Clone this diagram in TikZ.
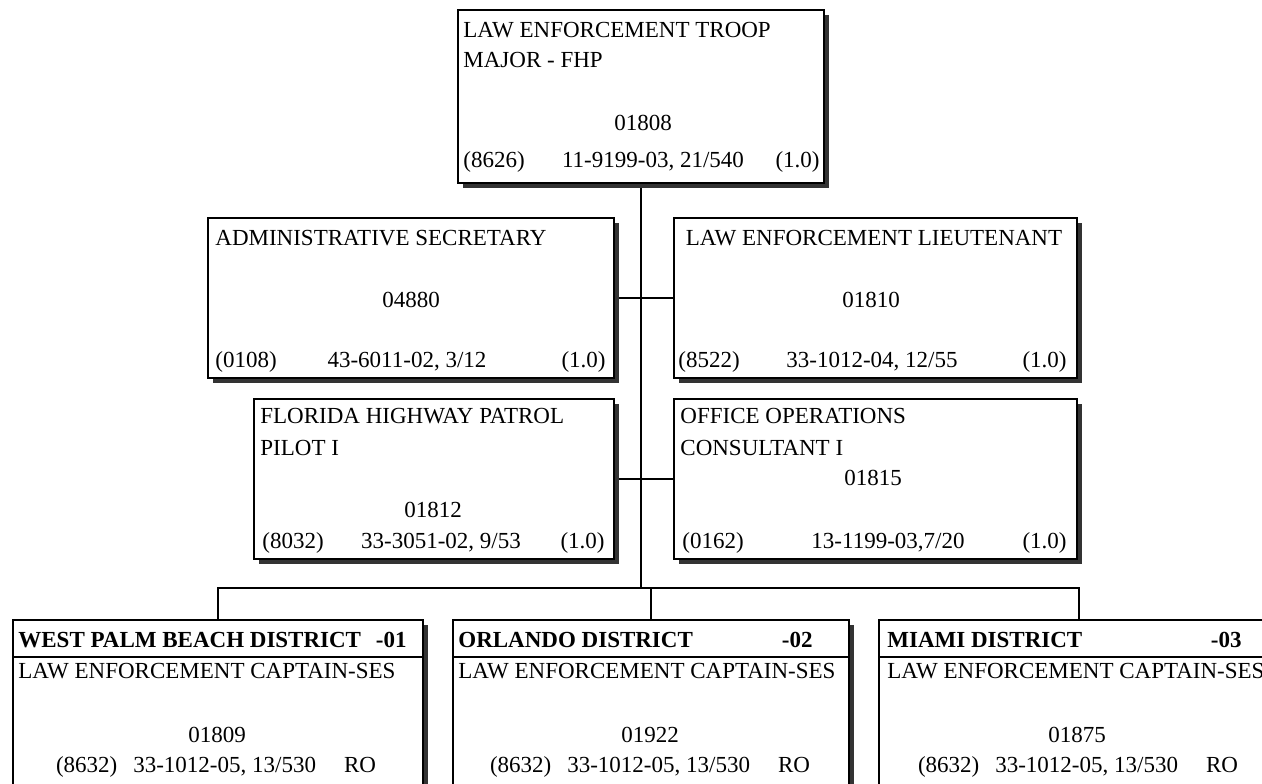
\documentclass[tikz,border=0pt]{standalone}
\usepackage{fontspec}
\setmainfont{Liberation Serif}
\usetikzlibrary{shadows,backgrounds}

\begin{document}
\begin{tikzpicture}[x=0.5pt, y=-0.5pt,
		post/.style={draw, line width=1pt, fill=white, inner sep=0pt, anchor=north west,
			drop shadow={shadow xshift=2.5pt, shadow yshift=-2.5pt, fill=black!80, opacity=1}},
		lbl/.style={inner sep=0pt, font=\fontsize{11.5}{13}\selectfont},
		hdr/.style={lbl, font=\fontsize{11.5}{13}\selectfont\bfseries},
		wire/.style={line width=0.9pt}]
	\useasboundingbox (0,0) rectangle (1262,783);
	\clip (0,0) rectangle (1262,783);

	% boxes
	\node[post, minimum width=183pt, minimum height=86.5pt] (major) at (457,9) {};
	\node[post, minimum width=203pt, minimum height=80pt] (adminsec) at (207,217) {};
	\node[post, minimum width=201.5pt, minimum height=80pt] (lieut) at (673,217) {};
	\node[post, minimum width=180pt, minimum height=80pt] (pilot) at (253,398) {};
	\node[post, minimum width=201.5pt, minimum height=80pt] (officeops) at (673,398) {};
	\node[post, minimum width=205pt, minimum height=90pt] (wpb) at (12,619) {};
	\node[post, minimum width=198pt, minimum height=90pt] (orl) at (452,619) {};
	\node[post, minimum width=200pt, minimum height=90pt] (mia) at (878,619) {};

	% district header rules
	\coordinate (sep) at (0,657);
	\foreach \d in {wpb,orl,mia}
		\draw[line width=0.8pt] (\d.west |- sep) -- (\d.east |- sep);

	% connectors
	\coordinate (bus) at (0,588);
	\begin{scope}[on background layer]
		\draw[wire] (major.south) -- (major.south |- bus);
		\draw[wire] (adminsec.east) -- (lieut.west);
		\draw[wire] (pilot.east) -- (officeops.west);
		\draw[wire] (wpb.north) |- (mia.north |- bus) -- (mia.north);
		\draw[wire] (orl.north) -- (orl.north |- bus);
	\end{scope}

	% troop major
	\node[lbl, anchor=base west] (majorA) at (463,37) {LAW ENFORCEMENT TROOP};
	\node[lbl, anchor=base west] (majorB) at (463,67) {MAJOR - FHP};
	\node[lbl, anchor=base] (majorN) at (643,130) {01808};
	\node[lbl, anchor=base west] (majorL) at (463,167) {(8626)};
	\node[lbl, anchor=base] (majorM) at (653,167) {11-9199-03, 21/540};
	\node[lbl, anchor=base east] (majorR) at (820,167) {(1.0)};

	% administrative secretary
	\node[lbl, anchor=base west] (adminA) at (215,245) {ADMINISTRATIVE SECRETARY};
	\node[lbl, anchor=base] (adminN) at (411,307) {04880};
	\node[lbl, anchor=base west] (adminL) at (215,367) {(0108)};
	\node[lbl, anchor=base] (adminM) at (407,367) {43-6011-02, 3/12};
	\node[lbl, anchor=base east] (adminR) at (606,367) {(1.0)};

	% lieutenant
	\node[lbl, anchor=base] (lieutA) at (874,245) {LAW ENFORCEMENT LIEUTENANT};
	\node[lbl, anchor=base] (lieutN) at (871,307) {01810};
	\node[lbl, anchor=base west] (lieutL) at (678,367) {(8522)};
	\node[lbl, anchor=base] (lieutM) at (872,367) {33-1012-04, 12/55};
	\node[lbl, anchor=base east] (lieutR) at (1067,367) {(1.0)};

	% pilot
	\node[lbl, anchor=base west] (pilotA) at (260,423) {FLORIDA HIGHWAY PATROL};
	\node[lbl, anchor=base west] (pilotB) at (260,455) {PILOT I};
	\node[lbl, anchor=base] (pilotN) at (433,517) {01812};
	\node[lbl, anchor=base west] (pilotL) at (262,548) {(8032)};
	\node[lbl, anchor=base] (pilotM) at (441,548) {33-3051-02, 9/53};
	\node[lbl, anchor=base east] (pilotR) at (605,548) {(1.0)};

	% office operations
	\node[lbl, anchor=base west] (officeA) at (680,423) {OFFICE OPERATIONS};
	\node[lbl, anchor=base west] (officeB) at (680,455) {CONSULTANT I};
	\node[lbl, anchor=base] (officeN) at (873,485) {01815};
	\node[lbl, anchor=base west] (officeL) at (682,548) {(0162)};
	\node[lbl, anchor=base] (officeM) at (888,548) {13-1199-03,7/20};
	\node[lbl, anchor=base east] (officeR) at (1067,548) {(1.0)};

	% districts
	\node[hdr, anchor=base west] (wpbH) at (18,647) {WEST PALM BEACH DISTRICT};
	\node[hdr, anchor=base east] (wpbC) at (407,647) {-01};
	\node[lbl, anchor=base west] (wpbA) at (18,678) {LAW ENFORCEMENT CAPTAIN-SES};
	\node[lbl, anchor=base] (wpbN) at (217,742) {01809};
	\node[lbl, anchor=base] (wpbL) at (216,772) {(8632)\hspace{8pt}33-1012-05, 13/530\hspace{14pt}RO};

	\node[hdr, anchor=base west] (orlH) at (458,647) {ORLANDO DISTRICT};
	\node[hdr, anchor=base east] (orlC) at (813,647) {-02};
	\node[lbl, anchor=base west] (orlA) at (458,678) {LAW ENFORCEMENT CAPTAIN-SES};
	\node[lbl, anchor=base] (orlN) at (650,742) {01922};
	\node[lbl, anchor=base] (orlL) at (650,772) {(8632)\hspace{8pt}33-1012-05, 13/530\hspace{14pt}RO};

	\node[hdr, anchor=base west] (miaH) at (887,647) {MIAMI DISTRICT};
	\node[hdr, anchor=base east] (miaC) at (1242,647) {-03};
	\node[lbl, anchor=base west] (miaA) at (887,678) {LAW ENFORCEMENT CAPTAIN-SES};
	\node[lbl, anchor=base] (miaN) at (1077,742) {01875};
	\node[lbl, anchor=base] (miaL) at (1078,772) {(8632)\hspace{8pt}33-1012-05, 13/530\hspace{14pt}RO};
\end{tikzpicture}
\end{document}
